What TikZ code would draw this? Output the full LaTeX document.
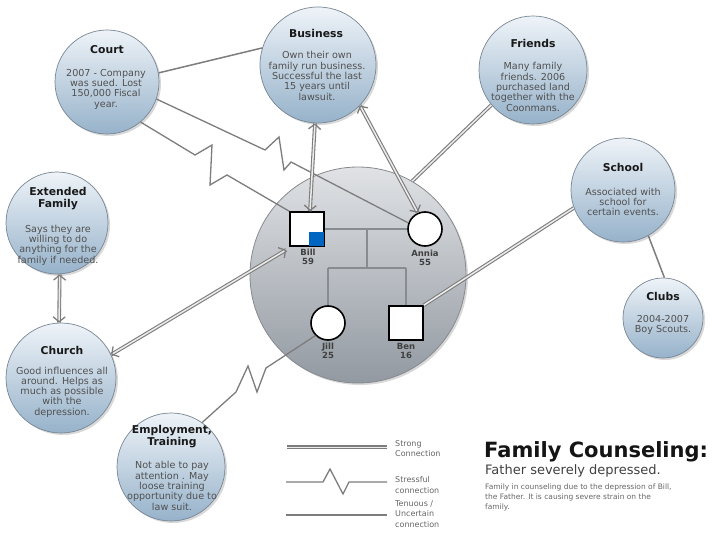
\documentclass[tikz,border=0pt]{standalone}
\usepackage{fontspec}
\setmainfont{DejaVu Sans}
\usetikzlibrary{arrows.meta,shadows,decorations.markings}
\definecolor{ctop}{RGB}{238,243,248}
\definecolor{cbot}{RGB}{150,178,202}
\definecolor{cedge}{RGB}{120,134,148}
\definecolor{ftop}{RGB}{224,226,229}
\definecolor{fbot}{RGB}{146,153,161}
\definecolor{fedge}{RGB}{135,138,142}
\definecolor{conn}{RGB}{125,125,125}
\definecolor{txtgray}{RGB}{80,80,80}
\definecolor{billblue}{RGB}{0,102,194}
\definecolor{famline}{RGB}{135,140,146}
\begin{document}
\begin{tikzpicture}[x=1pt,y=-1pt,
  topic/.style={circle, inner sep=0pt, minimum size=#1, draw=cedge, line width=0.7pt, top color=ctop, bottom color=cbot, drop shadow={shadow xshift=2pt, shadow yshift=-2pt, opacity=0.3}},
  ttl/.style={font=\fontsize{10.8}{12}\selectfont\bfseries, text=black!90, align=center, inner sep=0pt},
  bdy/.style={font=\fontsize{9.6}{10.3}\selectfont, text=txtgray, align=center, inner sep=0pt},
  strong/.style={draw=conn, line width=1.1pt, double=white!85!gray, double distance=1.5pt},
  strongarr/.style={strong, postaction={decorate, decoration={markings,
      mark=at position 0 with {\arrowreversed[conn, line width=1.3pt]{Straight Barb[length=5pt,width=12pt]}},
      mark=at position 1 with {\arrow[conn, line width=1.3pt]{Straight Barb[length=5pt,width=12pt]}}}}},
  stress/.style={draw=conn, line width=1.3pt, line join=miter},
  tenuous/.style={draw=conn, line width=1.5pt},
  male/.style={rectangle, draw=black, line width=1.6pt, fill=white, minimum size=34pt, inner sep=0pt},
  female/.style={circle, draw=black, line width=1.6pt, fill=white, minimum size=34pt, inner sep=0pt},
  famlbl/.style={font=\fontsize{8.5}{9.3}\selectfont\bfseries, text=black!75, align=center, inner sep=0pt},
  fam/.style={draw=famline, line width=1.2pt},
  lgd/.style={font=\fontsize{8}{10.3}\selectfont, text=black!60, align=left, anchor=west, inner sep=0pt}
]
\fill[white] (0,0) rectangle (720,540);
\useasboundingbox (0,0) rectangle (720,540);

% family circle
\node[circle, inner sep=0pt, minimum size=216pt, draw=fedge, line width=0.8pt, top color=ftop, bottom color=fbot, drop shadow={shadow xshift=2pt, shadow yshift=-2pt, opacity=0.3}] (family) at (358,275) {};

% topic circles
\node[topic=104pt] (court) at (107,82) {};
\node[topic=116pt] (business) at (318,65) {};
\node[topic=108pt] (friends) at (533,70) {};
\node[topic=104pt] (school) at (623,190) {};
\node[topic=80pt] (clubs) at (663,318) {};
\node[topic=102pt] (ext) at (57,223) {};
\node[topic=110pt] (church) at (61,378) {};
\node[topic=108pt] (employ) at (171,467) {};

% texts
\node[ttl] (courtT) at (107,50) {Court};
\node[bdy] (courtB) at (106,89) {2007 - Company\\was sued. Lost\\150,000 Fiscal\\year.};
\node[ttl] (busT) at (316,33) {Business};
\node[bdy] (busB) at (317,76) {Own their own\\family run business.\\Successful the last\\15 years until\\lawsuit.};
\node[ttl] (friT) at (533,43) {Friends};
\node[bdy] (friB) at (533,87) {Many family\\friends.  2006\\purchased land\\together with the\\Coonmans.};
\node[ttl] (schT) at (623,167) {School};
\node[bdy] (schB) at (623,202) {Associated with\\school for\\certain events.};
\node[ttl] (cluT) at (663,296) {Clubs};
\node[bdy] (cluB) at (663,325) {2004-2007\\Boy Scouts.};
\node[ttl] (extT) at (58,199) {Extended\\Family};
\node[bdy] (extB) at (58,245) {Says they are\\willing to do\\anything for the\\family if needed.};
\node[ttl] (chuT) at (62,350) {Church};
\node[bdy] (chuB) at (62,392) {Good influences all\\around.  Helps as\\much as possible\\with the\\depression.};
\node[ttl] (empT) at (172,437) {Employment,\\Training};
\node[bdy] (empB) at (172,486) {Not able to pay\\attention . May\\loose training\\opportunity due to\\law suit.};

% family tree lines
\coordinate (m) at (367,229);
\coordinate (km) at (367,268);
\coordinate (kl) at (328,268);
\coordinate (kr) at (406,268);
\draw[fam] (m) -- (km);
\draw[fam] (kl) -- (kr);
\draw[fam] (kl) -- (328,306);
\draw[fam] (kr) -- (406,306);
\draw[fam] (307,229) -- (425,229);

% family members
\node[male] (bill) at (307,229) {};
\fill[billblue] ([shift={(-0.8pt,0.8pt)}]bill.south east) rectangle ++(-15,-14);
\node[female] (annia) at (425,229) {};
\node[female] (jill) at (328,323) {};
\node[male] (ben) at (406,323) {};
\node[famlbl] (billL) at (308,257) {Bill\\59};
\node[famlbl] (anniaL) at (425,258) {Annia\\55};
\node[famlbl] (jillL) at (328,351) {Jill\\25};
\node[famlbl] (benL) at (406,351) {Ben\\16};

% connectors
\draw[tenuous] (court.10) -- (business.163);
\draw[stress] (court.-19) -- (265,150) -- (279,137) -- (284,170) -- (291,162) -- (annia.160);
\draw[stress] (court.-50) -- (195,155) -- (212,145) -- (210,185) -- (227,175) -- (bill.north west);
\draw[strongarr] (business.-93) -- ([xshift=3pt]bill.north);
\draw[strongarr] (business.-44) -- (annia.114);
\draw[strong] (friends.220) -- (family.60);
\draw[strong] (school.200) -- (ben.north east);
\draw[tenuous] (school.-61) -- (clubs.88);
\draw[strongarr] (ext.-87) -- (church.92);
\draw[strongarr] (church.25) -- ([shift={(-3pt,-3pt)}]bill.south west);
\draw[stress] (employ.55) -- (236,392) -- (248,366) -- (257,392) -- (266,368) -- (jill.225);

% legend
\coordinate (l1a) at (287,447.3);
\coordinate (l1b) at (387,447.3);
\draw[strong] (l1a) -- (l1b);
\draw[stress] (286,482) -- (323,482) -- (330,469) -- (343,494) -- (349,482) -- (387,482);
\draw[tenuous] (286,515) -- (387,515);
\node[lgd] (lg1) at (395,448.5) {Strong\\Connection};
\node[lgd] (lg2) at (395,485) {Stressful\\connection};
\node[lgd] (lg3) at (395,514) {Tenuous /\\Uncertain\\connection};

% title block
\node[anchor=base west, inner sep=0pt, font=\fontsize{21}{25}\selectfont\bfseries, text=black!92] (title) at (484,457) {Family Counseling:};
\node[anchor=base west, inner sep=0pt, font=\fontsize{13}{15}\selectfont, text=black!75] (sub) at (485,474) {Father severely depressed.};
\node[anchor=north west, inner sep=0pt, align=left, font=\fontsize{7.5}{9.6}\selectfont, text=black!60] (desc) at (485,484) {Family in counseling due to the depression of Bill,\\the Father.  It is causing severe strain on the\\family.};
\end{tikzpicture}
\end{document}
